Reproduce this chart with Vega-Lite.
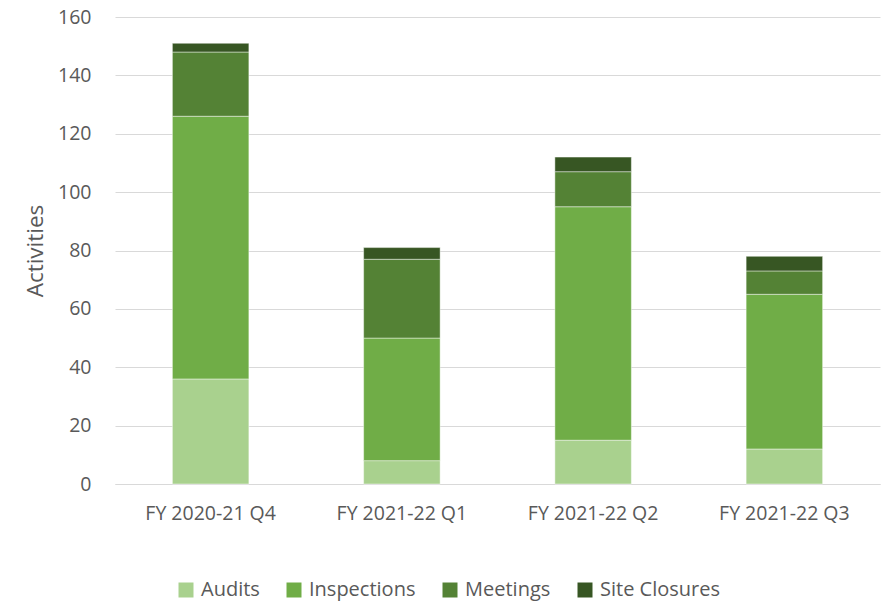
{
  "$schema": "https://vega.github.io/schema/vega-lite/v6.json",
  "autosize": "none",
  "width": 765,
  "height": 467,
  "padding": {"left": 115, "top": 17, "right": 3, "bottom": 118},
  "background": "white",
  "config": {"view": {"stroke": null}, "font": "Open Sans"},
  "data": {"values": [
    {"q": "FY 2020-21 Q4", "type": "Audits", "o": 1, "v": 36},
    {"q": "FY 2020-21 Q4", "type": "Inspections", "o": 2, "v": 90},
    {"q": "FY 2020-21 Q4", "type": "Meetings", "o": 3, "v": 22},
    {"q": "FY 2020-21 Q4", "type": "Site Closures", "o": 4, "v": 3},
    {"q": "FY 2021-22 Q1", "type": "Audits", "o": 1, "v": 8},
    {"q": "FY 2021-22 Q1", "type": "Inspections", "o": 2, "v": 42},
    {"q": "FY 2021-22 Q1", "type": "Meetings", "o": 3, "v": 27},
    {"q": "FY 2021-22 Q1", "type": "Site Closures", "o": 4, "v": 4},
    {"q": "FY 2021-22 Q2", "type": "Audits", "o": 1, "v": 15},
    {"q": "FY 2021-22 Q2", "type": "Inspections", "o": 2, "v": 80},
    {"q": "FY 2021-22 Q2", "type": "Meetings", "o": 3, "v": 12},
    {"q": "FY 2021-22 Q2", "type": "Site Closures", "o": 4, "v": 5},
    {"q": "FY 2021-22 Q3", "type": "Audits", "o": 1, "v": 12},
    {"q": "FY 2021-22 Q3", "type": "Inspections", "o": 2, "v": 53},
    {"q": "FY 2021-22 Q3", "type": "Meetings", "o": 3, "v": 8},
    {"q": "FY 2021-22 Q3", "type": "Site Closures", "o": 4, "v": 5}
  ]},
  "mark": {"type": "bar", "stroke": "#ffffff", "strokeWidth": 0.75, "strokeOpacity": 0.6},
  "encoding": {
    "x": {"field": "q", "type": "nominal", "sort": null,
      "scale": {"paddingInner": 0.6, "paddingOuter": 0.3},
      "axis": {"title": null, "labelAngle": 0, "labelFontSize": 19.5, "labelColor": "#595959", "labelPadding": 20, "ticks": false, "domainColor": "#D9D9D9", "domainWidth": 1}},
    "y": {"field": "v", "type": "quantitative", "stack": "zero",
      "scale": {"domain": [0, 160], "nice": false},
      "axis": {"title": "Activities", "titleFontSize": 22.5, "titleFontWeight": "normal", "titleColor": "#595959", "titlePadding": 10,
        "values": [0, 20, 40, 60, 80, 100, 120, 140, 160], "labelFontSize": 19.5, "labelColor": "#595959", "labelPadding": 24,
        "ticks": false, "domain": false, "gridColor": "#D9D9D9", "gridWidth": 1}},
    "color": {"field": "type", "type": "nominal",
      "scale": {"domain": ["Audits", "Inspections", "Meetings", "Site Closures"], "range": ["#A9D18E", "#70AD47", "#548235", "#375623"]},
      "legend": {"title": null, "orient": "none", "legendX": 61, "legendY": 563, "direction": "horizontal",
        "symbolType": "square", "symbolSize": 225, "symbolStrokeWidth": 0, "labelFontSize": 20, "labelColor": "#595959", "columnPadding": 24, "labelOffset": 5}},
    "order": {"field": "o", "type": "quantitative", "sort": "ascending"}
  }
}
